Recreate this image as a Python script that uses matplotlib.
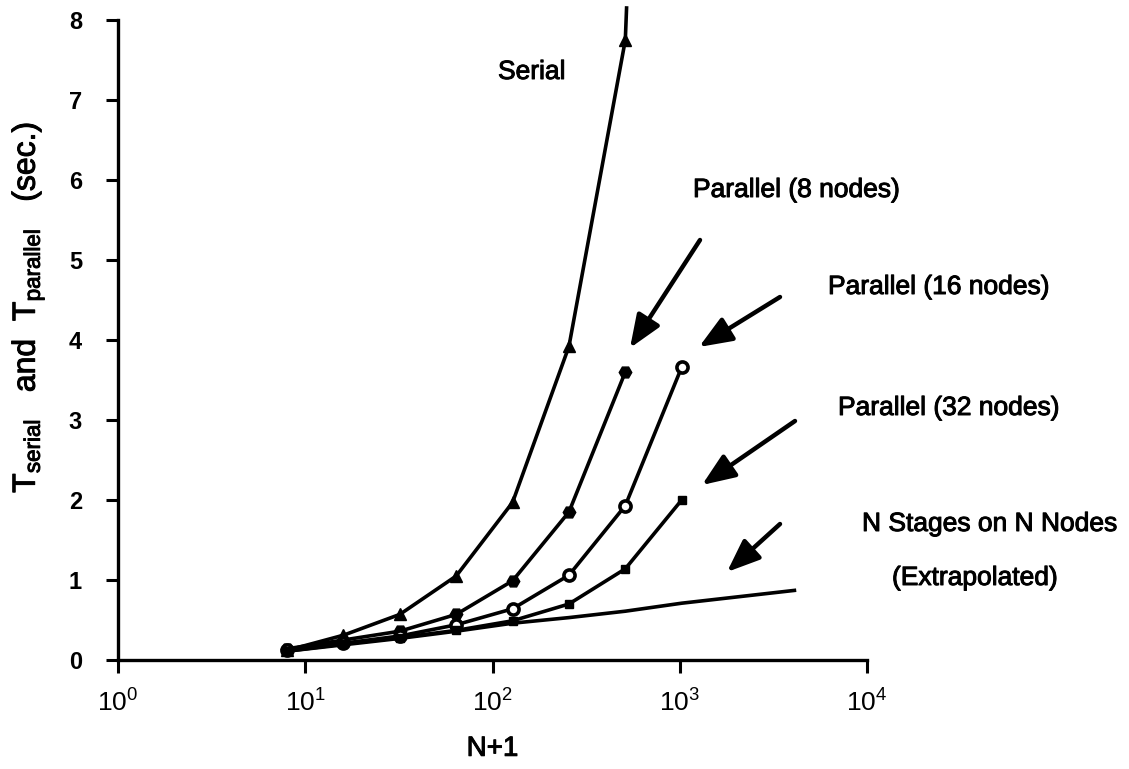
import math
import matplotlib
matplotlib.use("Agg")
import matplotlib.pyplot as plt
import matplotlib.patheffects as pe
from matplotlib.ticker import FixedLocator, FuncFormatter, NullLocator

plt.rcParams['font.family'] = ['Liberation Sans', 'DejaVu Sans']
plt.rcParams['mathtext.fontset'] = 'custom'
plt.rcParams['mathtext.rm'] = 'Liberation Sans'
plt.rcParams['mathtext.it'] = 'Liberation Sans'

# ---- data ----
n_plus_1 = [8, 16, 32, 64, 128, 256, 512, 1024]
serial = [0.12, 0.31, 0.57, 1.05, 1.97, 3.92, 7.75]
serial_tail_x = [512, 520]
serial_tail_y = [7.75, 8.15]
par8 = [0.14, 0.25, 0.36, 0.57, 0.99, 1.85, 3.60]
par16 = [0.12, 0.21, 0.30, 0.44, 0.64, 1.06, 1.93, 3.66]
par32 = [0.11, 0.20, 0.28, 0.37, 0.49, 0.70, 1.14, 2.00]
extrap_x = [8, 16, 32, 64, 128, 256, 512, 1024, 2048, 4096]
extrap = [0.11, 0.19, 0.27, 0.36, 0.46, 0.53, 0.61, 0.71, 0.79, 0.87]

x_ticks = [1, 10, 100, 1000, 10000]
y_ticks = [0, 1, 2, 3, 4, 5, 6, 7, 8]

W, H = 1129, 769
fig = plt.figure(figsize=(W / 100, H / 100), dpi=100)
ax = fig.add_axes([118 / W, (H - 660) / H, (867 - 118) / W, (660 - 20) / H])
ax.set_xscale('log')
ax.set_xlim(1, 10000)
ax.set_ylim(0, 8)

lw = 2.6
ax.plot(n_plus_1[:len(serial)], serial, color='black', lw=lw, marker='^',
        ms=9, mfc='black', mec='black', clip_on=False, zorder=3)
ax.plot(serial_tail_x, serial_tail_y, color='black', lw=lw, clip_on=False)
ax.plot(n_plus_1[:len(par8)], par8, color='black', lw=lw, marker='H',
        ms=9, mfc='black', mec='black', zorder=3)
ax.plot(n_plus_1[:len(par16)], par16, color='black', lw=lw, marker='o',
        ms=8, mfc='white', mec='black', mew=2.6, zorder=3)
ax.plot(n_plus_1[:len(par32)], par32, color='black', lw=lw, marker='s',
        ms=5.5, mfc='black', mec='black', zorder=3)
ax.plot(extrap_x, extrap, color='black', lw=lw, zorder=2)

for s in ['top', 'right']:
    ax.spines[s].set_visible(False)
for s in ['left', 'bottom']:
    ax.spines[s].set_linewidth(2.4)

ax.xaxis.set_major_locator(FixedLocator(x_ticks))
ax.xaxis.set_minor_locator(NullLocator())
ax.xaxis.set_major_formatter(FuncFormatter(
    lambda v, p: r'$\mathregular{10^{%d}}$' % round(math.log10(v))))
ax.set_yticks(y_ticks)
ax.tick_params(axis='x', direction='out', length=9, width=2.2, labelsize=19, pad=12)
ax.tick_params(axis='y', direction='out', length=9, width=2.2, labelsize=17, pad=17)
for t in ax.get_yticklabels():
    t.set_fontweight('bold')

thick = [pe.withStroke(linewidth=0.7, foreground='black')]

ax.set_xlabel('N+1', fontsize=20, labelpad=14, path_effects=thick)
ax.set_ylabel(r'T$_{\mathregular{serial}}$   and  T$_{\mathregular{parallel}}$   (sec.)',
              fontsize=23, path_effects=thick)
ax.yaxis.set_label_coords((47 - 118) / (867 - 118), (660 - 307) / (660 - 20))

def fig_xy(xp, yp):
    return (xp / W, (H - yp) / H)

labels = [('Serial', 498, 72),
          ('Parallel (8 nodes)', 693, 190),
          ('Parallel (16 nodes)', 828, 287),
          ('Parallel (32 nodes)', 838, 408),
          ('N Stages on N Nodes', 862, 524),
          ('(Extrapolated)', 892, 578)]
for s, xp, yp in labels:
    fx, fy = fig_xy(xp, yp)
    fig.text(fx, fy, s, fontsize=19, color='black', ha='left', va='center',
             path_effects=thick)

arrows = [((700, 240), (630, 348)),
          ((780, 297), (699, 347)),
          ((795, 421), (702, 485)),
          ((780, 524), (727, 572))]
for (x0, y0), (x1, y1) in arrows:
    ax.annotate('', xy=fig_xy(x1, y1), xycoords='figure fraction',
                xytext=fig_xy(x0, y0), textcoords='figure fraction',
                arrowprops=dict(arrowstyle='-|>,head_length=2.0,head_width=0.8',
                                lw=3.2, color='black', shrinkA=0, shrinkB=0),
                annotation_clip=False)

fig.savefig('out.png', dpi=100)
